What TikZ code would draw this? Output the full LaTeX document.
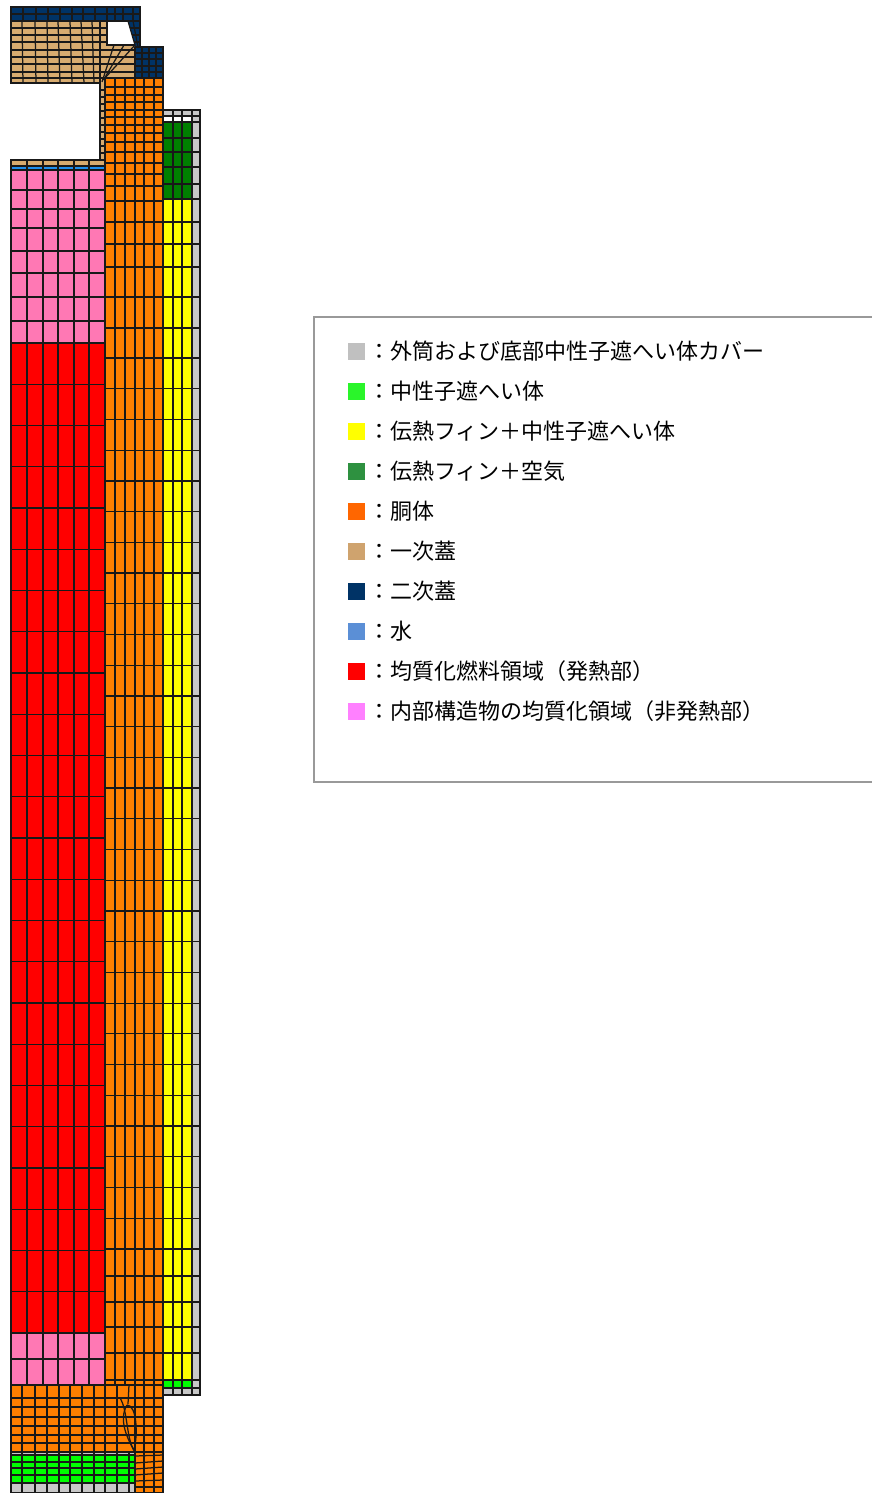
\documentclass[tikz,border=0pt]{standalone}
\usepackage{fontspec}
\newfontfamily\jp{Noto Sans CJK JP}
\definecolor{mgray}{HTML}{C8C8C8}
\definecolor{mbgreen}{HTML}{00FF00}
\definecolor{myellow}{HTML}{FFFF00}
\definecolor{mdgreen}{HTML}{008000}
\definecolor{morange}{HTML}{FF8000}
\definecolor{mtan}{HTML}{D8AC70}
\definecolor{mnavy}{HTML}{003366}
\definecolor{mwater}{HTML}{1E90F0}
\definecolor{mred}{HTML}{FF0000}
\definecolor{mpink}{HTML}{FF78B4}
\definecolor{lgray}{HTML}{C0C0C0}
\definecolor{lbgreen}{HTML}{2AF52A}
\definecolor{lyellow}{HTML}{FFFF00}
\definecolor{ldgreen}{HTML}{2E9140}
\definecolor{lorange}{HTML}{FF6600}
\definecolor{ltan}{HTML}{CFA36E}
\definecolor{lnavy}{HTML}{003366}
\definecolor{lblue}{HTML}{5B8FD6}
\definecolor{lred}{HTML}{FF0000}
\definecolor{lpink}{HTML}{FF80FF}
\begin{document}
\begin{tikzpicture}[x=1pt,y=-1pt,
  meshline/.style={line width=1.25pt, draw=black!90},
  legsq/.style={inner sep=0pt, minimum width=17pt, minimum height=17pt, draw=none},
  legtext/.style={inner sep=0pt, anchor=base west, font=\jp\fontsize{22}{26}\selectfont}]
\useasboundingbox (0,0) rectangle (872,1493);
% ---------- fills ----------
\fill[mnavy] (11,7)--(140,7)--(140,47)--(163,47)--(163,78)--(135,78)--(135,45)--(128,21)--(11,21)--cycle;
\fill[mtan] (11,21)--(107,21)--(107,45)--(135,45)--(135,78)--(105,78)--(105,160)--(100,160)--(100,83)--(11,83)--cycle;
\fill[mtan] (11,160) rectangle (105,166);
\fill[mwater] (11,166) rectangle (105,170);
\fill[mpink] (11,170) rectangle (105,343);
\fill[mred] (11,343) rectangle (105,1333);
\fill[mpink] (11,1333) rectangle (105,1385);
\fill[morange] (105,78)--(163,78)--(163,1493)--(135,1493)--(135,1452)--(11,1452)--(11,1385)--(105,1385)--cycle;
\fill[mgray] (11,1452) rectangle (135,1455);
\fill[mbgreen] (11,1455) rectangle (135,1483);
\fill[mgray] (11,1483) rectangle (135,1493);
\fill[mgray] (163,110) rectangle (200,1395);
\fill[white] (163,116) rectangle (192,122);
\fill[mdgreen] (163,122) rectangle (192,199);
\fill[myellow] (163,199) rectangle (192,1380);
\fill[mbgreen] (163,1380) rectangle (192,1388);
% ---------- secondary lid grid ----------
\foreach \x in {11,23,36,48,60,72,83,95,107,115,123,133,140}
  \draw[meshline] (\x,7) -- (\x,21);
\foreach \y in {7,14,21}
  \draw[meshline] (11,\y) -- (140,\y);
\draw[meshline] (128,21) -- (135,45) -- (135,47);
\draw[meshline] (133,21) -- (138,47);
\foreach \y/\xl in {28/130,35/132,42/134}
  \draw[meshline] (\xl,\y) -- (140,\y);
\draw[meshline] (140,7) -- (140,47);
\foreach \x in {135,142,149,156,163}
  \draw[meshline] (\x,47) -- (\x,78);
\foreach \y in {47,53,59,66,72,78}
  \draw[meshline] (135,\y) -- (163,\y);
% ---------- primary lid grid ----------
\foreach \xt/\xb in {11/11,22/23,35/36,47/48,58/60,70/72,81/84,92/94}
  \draw[meshline] (\xt,21) -- (\xb,83);
\foreach \y in {28,35,42}
  \draw[meshline] (11,\y) -- (107,\y);
\foreach \y in {50,57,64,72,78}
  \draw[meshline] (11,\y) -- (135,\y);
\draw[meshline] (11,83) -- (100,83);
\draw[meshline] (107,21) -- (107,45) -- (135,45);
\foreach \xt/\yt/\xb/\yb in {100/21/100/83, 114/45/102/82, 124/45/103.5/80, 135/45/105/78}
  \draw[meshline] (\xt,\yt) -- (\xb,\yb);
\draw[meshline] (100,83) -- (100,160);
\foreach \y in {90,97,104,111,118,125,132,139,146,153,160}
  \draw[meshline] (100,\y) -- (105,\y);
% ---------- inner region grid ----------
\foreach \x in {11,27,43,58,74,89}
  \draw[meshline] (\x,160) -- (\x,1385);
\foreach \y in {160,166,170,190,209,228,251,273,297,321,343,1359}
  \draw[meshline] (11,\y) -- (105,\y);
\foreach \k in {1,...,24}
  \draw[meshline] (11,{343+41.25*\k}) -- (105,{343+41.25*\k});
% ---------- body grid ----------
\foreach \x in {105,115,125,135,144,154}
  \draw[meshline] (\x,78) -- (\x,1385);
\foreach \y in {78,87,95,102,110,117,125,133,142,152,163,174,186,201}
  \draw[meshline] (105,\y) -- (163,\y);
\foreach \y in {222,244,267,297,328,1276,1302,1327,1353,1380}
  \draw[meshline] (105,\y) -- (200,\y);
\foreach \k in {0,...,29}
  \draw[meshline] (105,{358+30.72*\k}) -- (200,{358+30.72*\k});
\draw[meshline] (11,1385) -- (163,1385);
% ---------- outer column grid ----------
\foreach \y in {110,116,122,138,152,167,184,199,1388,1395}
  \draw[meshline] (163,\y) -- (200,\y);
\foreach \x in {163,173,182,192,200}
  \draw[meshline] (\x,110) -- (\x,1395);
% ---------- bottom body grid ----------
\foreach \x in {22,35,47,59,70,82,94,105,117}
  \draw[meshline] (\x,1385) -- (\x,1452);
\foreach \y in {1398,1407,1417,1426,1435,1443,1452}
  \draw[meshline] (11,\y) -- (163,\y);
\draw[meshline] (120,1398) .. controls (128,1410) and (126,1440) .. (135,1452);
\draw[meshline] (127,1405) .. controls (118,1420) and (128,1440) .. (134,1450);
\draw[meshline] (127,1405) .. controls (137,1405) and (138,1435) .. (134,1450);
\draw[meshline] (129,1385) -- (128,1404);
\foreach \x in {135,144,154,163}
  \draw[meshline] (\x,1385) -- (\x,1493);
\foreach \y/\yr in {1456/1455,1463/1461,1469/1467,1475/1473,1481/1480,1487/1487,1493/1493}
  \draw[meshline] (135,\y) -- (163,\yr);
% ---------- bottom shield grid ----------
\foreach \x in {11,22,35,47,59,70,82,94,105,117,129}
  \draw[meshline] (\x,1452) -- (\x,1493);
\foreach \y in {1455,1462,1468,1475,1483,1493}
  \draw[meshline] (11,\y) -- (135,\y);
% ---------- outline ----------
\draw[meshline] (11,7)--(140,7)--(140,47)--(163,47)--(163,110)--(200,110)--(200,1395)--(163,1395)--(163,1493)--(11,1493)--(11,160)--(100,160)--(100,83)--(11,83)--cycle;
% ---------- legend ----------
\draw[line width=1.2pt, draw=black!40] (872,317) -- (314,317) -- (314,782) -- (872,782);
\foreach \i/\c/\t in {0/lgray/外筒および底部中性子遮へい体カバー,
                      1/lbgreen/中性子遮へい体,
                      2/lyellow/伝熱フィン＋中性子遮へい体,
                      3/ldgreen/伝熱フィン＋空気,
                      4/lorange/胴体,
                      5/ltan/一次蓋,
                      6/lnavy/二次蓋,
                      7/lblue/水,
                      8/lred/均質化燃料領域（発熱部）,
                      9/lpink/内部構造物の均質化領域（非発熱部）} {
  \node[legsq, fill=\c] (sq\i) at (356.5,{351.5+40*\i}) {};
  \node[legtext] (lt\i) at (368,{359.5+40*\i}) {：\t};
}
\end{tikzpicture}
\end{document}
